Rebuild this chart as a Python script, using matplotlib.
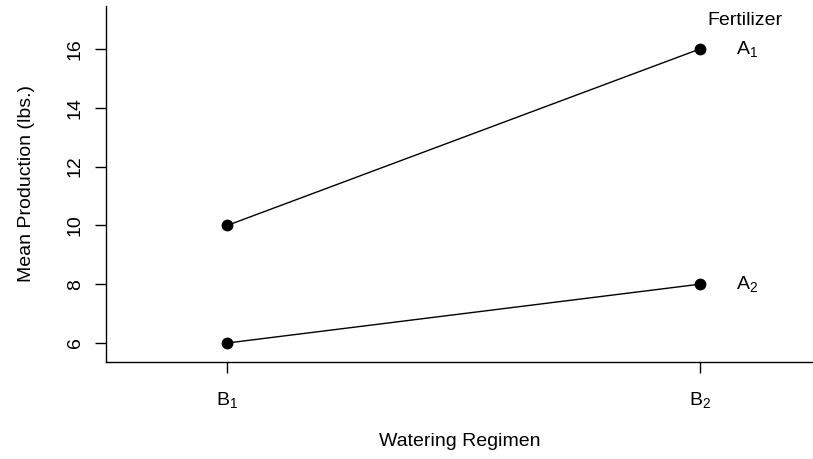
import matplotlib
matplotlib.use("Agg")
import matplotlib.pyplot as plt

plt.rcParams['font.family'] = ['Liberation Sans', 'DejaVu Sans']
plt.rcParams['mathtext.fontset'] = 'custom'
plt.rcParams['mathtext.rm'] = 'Liberation Sans'
plt.rcParams['mathtext.it'] = 'Liberation Sans:italic'
plt.rcParams['mathtext.default'] = 'regular'

watering = [r'$B_1$', r'$B_2$']
fertilizer = [r'$A_1$', r'$A_2$']
a1_means = [10, 16]
a2_means = [6, 8]
yticks = [6, 8, 10, 12, 14, 16]

fig = plt.figure(figsize=(8.13, 4.59), dpi=100)
ax = fig.add_axes([106/813, 1-362/459, 1-106/813, (362-6)/459])

xpos = [1, 2]
for vals in (a1_means, a2_means):
    ax.plot(xpos, vals, color='black', lw=1.0, marker='o', ms=7.5, mfc='black', mec='black')

ax.set_xlim(0.743, 2.239)
ax.set_ylim(5.353, 17.46)
ax.set_xticks(xpos)
ax.set_xticklabels(watering)
ax.set_yticks(yticks)
ax.set_yticklabels([str(v) for v in yticks], rotation=90, va='center')
ax.tick_params(axis='both', length=8, width=1.0, labelsize=14, direction='out', color='black')
ax.tick_params(axis='y', pad=8)
ax.tick_params(axis='x', pad=12)
for s in ('top', 'right'):
    ax.spines[s].set_visible(False)
for s in ('left', 'bottom'):
    ax.spines[s].set_linewidth(1.0)

ax.set_ylabel('Mean Production (lbs.)', fontsize=14, labelpad=23)
ax.set_xlabel('Watering Regimen', fontsize=14, labelpad=17)

# legend-like labels
ax.text(2.095, 16 + 0.95, 'Fertilizer', fontsize=14, ha='center', va='center')
for lab, vals in zip(fertilizer, (a1_means, a2_means)):
    ax.text(2.1, vals[-1], lab, fontsize=14, ha='center', va='center')

fig.savefig('out.png', dpi=100)
